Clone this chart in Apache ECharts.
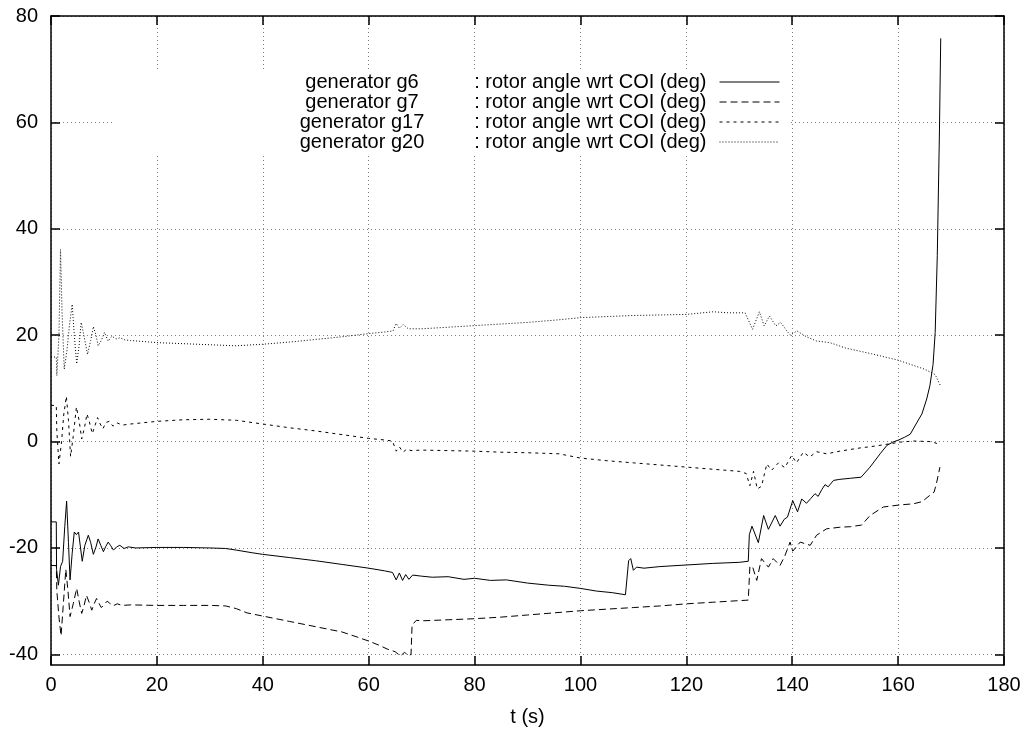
<!DOCTYPE html>
<html>
<head>
<meta charset="utf-8">
<script src="https://cdn.jsdelivr.net/npm/echarts@6/dist/echarts.min.js"></script>
<style>
  html, body { margin: 0; padding: 0; background: #fff; }
  #chart { width: 1029px; height: 732px; }
</style>
</head>
<body>
<div id="chart"></div>
<script>
// ---- data ----
const xTicks = [0, 20, 40, 60, 80, 100, 120, 140, 160, 180];
const yTicks = [-40, -20, 0, 20, 40, 60, 80];
const seriesNames = ['generator g6', 'generator g7', 'generator g17', 'generator g20'];
const quantityLabel = ': rotor angle wrt COI (deg)';
const xName = 't (s)';

const g6T = [0, 1.0, 1.05, 1.4, 1.8, 2.2, 2.6, 2.95, 3.3, 3.6, 4.0, 4.4, 4.8, 5.2, 5.9, 6.4, 7.05, 7.5, 8.0, 8.5, 8.9, 9.4, 9.9, 10.3, 10.8, 11.3, 11.8, 12.4, 13.0, 13.8, 14.6, 16, 20, 25, 30, 33, 35, 38, 40, 45, 50, 55, 60, 63, 64.5, 65.2, 65.8, 66.4, 67.0, 67.6, 68.3, 70, 72, 75, 78, 80, 83, 86, 90, 94, 97, 100, 103, 106, 108.5, 108.8, 109.1, 109.5, 110, 110.6, 112, 115, 120, 125, 130, 131.7, 131.9, 132.4, 133.6, 134.6, 135.5, 136.8, 137.7, 138.5, 139.1, 140.1, 141.0, 141.8, 142.7, 143.5, 144.3, 144.9, 145.6, 146.2, 146.8, 147.8, 149.0, 151.0, 153.0, 154.7, 156.6, 157.9, 159, 160.1, 161.2, 162.3, 163.5, 164.5, 165.4, 166.0, 166.6, 167.0, 167.4, 167.8, 168.05];
const g6V = [-15.1, -15.1, -24, -27, -23.5, -22.5, -16, -11.2, -19, -26, -21, -17.0, -17.5, -17.0, -22.5, -19.5, -17.6, -19, -21.2, -19.8, -18.3, -19.5, -20.7, -19.8, -18.9, -19.6, -20.4, -19.8, -19.5, -20.1, -19.8, -20.0, -19.9, -19.9, -20.0, -20.1, -20.4, -20.9, -21.2, -21.8, -22.4, -23.1, -23.8, -24.3, -24.6, -26.0, -24.7, -26.1, -25.0, -25.9, -25.1, -25.3, -25.5, -25.4, -25.9, -25.7, -26.1, -26.0, -26.6, -27.0, -27.2, -27.6, -28.1, -28.4, -28.8, -28.9, -22.4, -22.0, -24.2, -23.6, -23.8, -23.5, -23.2, -22.9, -22.7, -22.5, -17.5, -15.9, -19.0, -13.9, -16.5, -13.9, -15.9, -14.6, -14.2, -11.1, -13.2, -10.8, -11.6, -10.7, -9.8, -10.3, -9.0, -8.1, -8.5, -7.3, -7.1, -6.9, -6.7, -4.8, -2.3, -0.7, -0.1, 0.3, 0.8, 1.4, 3.5, 5.2, 8.0, 10.5, 14.5, 20.5, 35, 58, 75.8];

const g7T = [0, 1.0, 1.1, 1.5, 1.9, 2.3, 2.8, 3.2, 3.6, 4.2, 4.85, 5.3, 5.8, 6.2, 6.7, 7.2, 7.7, 8.1, 8.6, 9.0, 9.5, 10.0, 10.6, 11.1, 11.7, 12.5, 13.5, 15, 20, 25, 30, 33, 35, 37, 40, 45, 50, 55, 58, 60, 62, 63.5, 65, 66, 66.8, 67.5, 68.0, 68.2, 69, 70, 75, 80, 85, 90, 95, 100, 105, 110, 115, 120, 125, 130, 131.7, 132.0, 132.5, 133.3, 134.2, 135.5, 136.4, 137.7, 138.6, 139.6, 140.1, 141.5, 143.4, 144.6, 146.5, 149.0, 151, 153.1, 154.7, 157.2, 160.4, 162.9, 164.5, 166.0, 166.8, 167.3, 167.9];
const g7V = [-23.3, -23.3, -28, -33, -36.5, -31, -24, -28, -32.9, -30.5, -27.6, -30, -32.3, -31, -28.9, -30.2, -31.7, -30.6, -29.5, -30.3, -31.2, -30.7, -30.0, -30.4, -30.9, -30.5, -30.8, -30.7, -30.8, -30.8, -30.8, -30.9, -31.4, -32.2, -32.8, -33.8, -34.8, -35.8, -36.8, -37.5, -38.3, -39.0, -39.5, -40.3, -39.6, -40.3, -40.0, -34.5, -33.6, -33.7, -33.5, -33.3, -33.0, -32.6, -32.2, -31.8, -31.5, -31.2, -30.9, -30.5, -30.2, -29.9, -29.8, -23.5, -23.5, -26.1, -22.0, -23.6, -22.0, -23.3, -21.5, -18.9, -20.6, -18.9, -19.5, -17.6, -16.4, -16.1, -16.0, -15.7, -13.9, -12.3, -11.9, -11.7, -11.3, -10.1, -9.5, -7.6, -4.8];

const g17T = [0, 1.0, 1.1, 1.5, 2.0, 2.4, 2.9, 3.3, 3.7, 4.2, 4.8, 5.3, 5.8, 6.3, 6.8, 7.3, 7.8, 8.3, 8.8, 9.3, 9.8, 10.4, 11, 11.7, 12.5, 13.5, 15, 20, 25, 30, 35, 40, 45, 50, 55, 60, 63, 64.5, 65.2, 65.8, 66.5, 67.2, 68, 70, 75, 80, 85, 90, 96, 100, 105, 110, 115, 120, 125, 130, 131.3, 132.0, 132.7, 133.4, 134.2, 135.2, 136.1, 137.4, 138.6, 139.9, 140.8, 142.1, 143.3, 144.6, 146.5, 149.0, 152.8, 156, 160.4, 163, 166, 167.2, 167.6];
const g17V = [6.8, 6.8, 2, -4.2, 0, 5, 8.5, 4, -2.8, 1, 6.5, 4, 0.5, 2.5, 5.2, 3.5, 1.5, 3, 4.5, 3.3, 2.4, 3.6, 3.8, 2.9, 3.5, 3.1, 3.3, 3.8, 4.1, 4.2, 4.0, 3.3, 2.6, 2.0, 1.3, 0.6, 0.3, 0.1, -1.8, -1.0, -2.0, -1.4, -1.7, -1.6, -1.7, -1.8, -2.0, -2.1, -2.3, -3.1, -3.6, -4.0, -4.4, -4.8, -5.2, -5.6, -6.0, -8.3, -5.6, -8.9, -8.4, -4.2, -5.4, -4.0, -4.9, -2.6, -4.0, -2.0, -2.9, -1.9, -2.3, -1.8, -1.2, -0.8, -0.1, 0.1, 0.0, -0.3, -1.1];

const g20T = [0, 1.0, 1.1, 1.5, 1.8, 2.1, 2.5, 3.0, 3.5, 4.0, 4.4, 4.85, 5.3, 5.7, 6.3, 6.9, 7.5, 8.0, 8.5, 8.9, 9.5, 10.1, 10.8, 11.5, 12.3, 13, 14, 15, 20, 25, 30, 35, 40, 45, 50, 55, 60, 63, 64.6, 65.2, 65.8, 66.5, 67.5, 70, 75, 80, 85, 90, 96, 100, 105, 110, 115, 120, 125.1, 128, 131.1, 132.5, 133.8, 134.7, 135.7, 136.9, 137.8, 139.6, 140.9, 142.7, 144.6, 147.1, 150, 155, 160, 165, 167, 168];
const g20V = [15.9, 15.9, 12.4, 20, 36.1, 24, 13.6, 17, 22, 25.8, 20, 14.6, 18, 22.4, 19.5, 16.4, 19, 21.6, 20, 18.0, 19, 20.5, 18.9, 19.8, 19.3, 19.5, 19.1, 19.0, 18.6, 18.4, 18.2, 18.0, 18.3, 18.7, 19.2, 19.7, 20.3, 20.6, 20.8, 22.2, 21.3, 22.0, 21.2, 21.2, 21.5, 21.8, 22.1, 22.4, 22.9, 23.3, 23.5, 23.7, 23.8, 23.9, 24.4, 24.2, 24.2, 21.1, 24.4, 21.75, 23.6, 21.75, 22.4, 20.0, 20.8, 19.7, 18.9, 18.6, 17.6, 16.5, 15.3, 13.6, 12.6, 10.5];

// ---- chart ----
const FONT = '"Liberation Sans", Arial, Helvetica, sans-serif';
const FS = 20;
const pairs = (T, V) => T.map((t, i) => [t, V[i]]);
const seriesData = [pairs(g6T, g6V), pairs(g7T, g7V), pairs(g17T, g17V), pairs(g20T, g20V)];
const dashTypes = ['solid', [7, 4], [3, 4], [1, 2]];

const chart = echarts.init(document.getElementById('chart'), null, { renderer: 'canvas' });

const gridLine = { show: true, lineStyle: { color: '#808080', width: 1, type: [1, 3] } };
const frameLine = { show: true, onZero: false, lineStyle: { color: '#000', width: 1.5 } };
const tickIn = { show: true, inside: true, length: 9, lineStyle: { color: '#000', width: 1.5 } };

const legendRowY = [82, 102, 122, 142];

chart.setOption({
  animation: false,
  backgroundColor: '#fff',
  grid: { left: 51, right: 25, top: 16, bottom: 66, containLabel: false },
  xAxis: [
    {
      type: 'value', min: xTicks[0], max: xTicks[xTicks.length - 1], interval: 20,
      position: 'bottom',
      name: xName, nameLocation: 'middle', nameGap: 42,
      nameTextStyle: { fontFamily: FONT, fontSize: FS, color: '#000' },
      axisLine: frameLine, axisTick: tickIn,
      axisLabel: { fontFamily: FONT, fontSize: FS, color: '#000', margin: 10 },
      splitLine: gridLine
    },
    {
      type: 'value', min: xTicks[0], max: xTicks[xTicks.length - 1], interval: 20,
      position: 'top',
      axisLine: frameLine, axisTick: tickIn,
      axisLabel: { show: false }, splitLine: { show: false }
    }
  ],
  yAxis: [
    {
      type: 'value', min: -42, max: 80,
      position: 'left',
      axisLine: frameLine,
      axisTick: Object.assign({}, tickIn, { customValues: yTicks }),
      axisLabel: { fontFamily: FONT, fontSize: FS, color: '#000', margin: 13, customValues: yTicks },
      splitLine: gridLine
    },
    {
      type: 'value', min: -42, max: 80,
      position: 'right',
      axisLine: frameLine,
      axisTick: Object.assign({}, tickIn, { customValues: yTicks }),
      axisLabel: { show: false, customValues: yTicks },
      splitLine: { show: false }
    }
  ],
  legend: {
    orient: 'vertical',
    right: 249, top: 72,
    padding: 0,
    align: 'right',
    itemWidth: 60, itemHeight: 15, itemGap: 0,
    selectedMode: false,
    data: seriesNames,
    formatter: () => quantityLabel,
    itemStyle: { opacity: 0, borderWidth: 0 },
    lineStyle: { width: 1 },
    textStyle: { fontFamily: FONT, fontSize: FS, color: '#000', lineHeight: 20, padding: [0, 8, 0, 0] },
    z: 6
  },
  graphic: [
    { type: 'rect', z: 3, silent: true, shape: { x: 114, y: 70, width: 676, height: 86 }, style: { fill: '#fff' } }
  ].concat(seriesNames.map((n, i) => ({
    type: 'text', z: 7, silent: true, x: 362, y: legendRowY[i],
    style: { text: n, fontFamily: FONT, fontSize: FS, fill: '#000', align: 'center', verticalAlign: 'middle' }
  }))),
  series: seriesNames.map((n, i) => ({
    name: n, type: 'line', xAxisIndex: 0, yAxisIndex: 0,
    data: seriesData[i], symbol: 'none', showSymbol: false, smooth: false,
    lineStyle: { color: '#000', width: 1, type: dashTypes[i] },
    itemStyle: { color: '#000' },
    z: 2
  }))
});
</script>
</body>
</html>
